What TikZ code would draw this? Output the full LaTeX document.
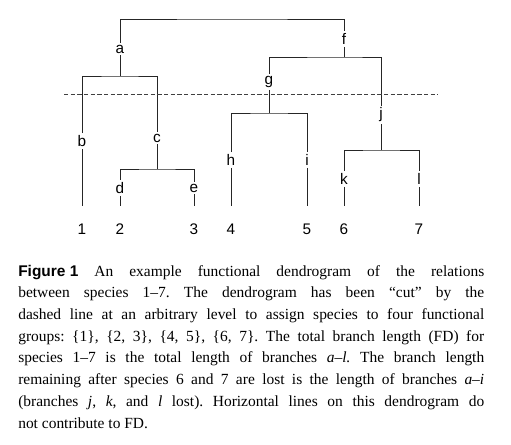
\documentclass[tikz,border=0pt]{standalone}
\usepackage{fontspec}
\setmainfont{Liberation Serif}
\setsansfont{Liberation Sans}
\usepackage{tikz}
\usetikzlibrary{calc}
\tikzset{
	lbl/.style={font=\sffamily\fontsize{11.5}{13}\selectfont,inner sep=1.5pt},
	species/.style={font=\sffamily\fontsize{11.5}{13}\selectfont,inner sep=1pt},
	branch/.style={draw=black!85,line width=0.7pt},
	cut/.style={draw=black!75,line width=0.7pt,dash pattern=on 3.2pt off 1.8pt},
	caption/.style={text width=349.5pt,align=justify,inner sep=0pt,font=\fontsize{11.6}{16.3}\selectfont\frenchspacing}
}

\begin{document}
\begin{tikzpicture}[x=0.75pt,y=-0.75pt]
		\useasboundingbox (0,0) rectangle (511,444);
		% branch labels
		\node[lbl] (a) at (120,49) {a};
		\node[lbl] (b) at (82,141) {b};
		\node[lbl] (c) at (157,138) {c};
		\node[lbl] (d) at (120,188) {d};
		\node[lbl] (e) at (194,188) {e};
		\node[lbl] (f) at (344,39) {f};
		\node[lbl] (g) at (269,82) {g};
		\node[lbl] (h) at (231,160) {h};
		\node[lbl] (i) at (307,160) {i};
		\node[lbl] (j) at (381,115) {j};
		\node[lbl] (k) at (344,179) {k};
		\node[lbl] (l) at (419,179) {l};
		
		% species numbers
		\foreach \n/\x in {1/82,2/120,3/194,4/231,5/307,6/344,7/419}
			\node[species] (s\n) at (\x,229) {\n};
		
		% forks
		\coordinate (root) at (232,19);
		\coordinate (fa) at (120,76);
		\coordinate (fc) at (157,169);
		\coordinate (ff) at (344,57);
		\coordinate (fg) at (269,113);
		\coordinate (fj) at (381,150);
		\coordinate (tips) at (0,206);
		\coordinate (cutl) at (64,94);
		\coordinate (cutr) at (438,94);
		
		\draw[branch] (a) |- (root) -| (f);
		\draw[branch] (b) |- (fa) -| (c);
		\draw[branch] (a) -- (fa);
		\draw[branch] (d) |- (fc) -| (e);
		\draw[branch] (c) -- (fc);
		\draw[branch] (g) |- (ff) -| (j);
		\draw[branch] (f) -- (ff);
		\draw[branch] (h) |- (fg) -| (i);
		\draw[branch] (g) -- (fg);
		\draw[branch] (k) |- (fj) -| (l);
		\draw[branch] (j) -- (fj);
		\foreach \t in {b,d,e,h,i,k,l}
			\draw[branch] (\t) -- (\t |- tips);
		
		\draw[cut] (cutl) -- (cutr);
		
		\node[caption,anchor=base west] (cap) at (18,276) {{\sffamily\bfseries Figure\hspace{0.28em}1} An example functional dendrogram of the relations\linebreak between species 1–7. The dendrogram has been “cut” by the\linebreak dashed line at an arbitrary level to assign species to four functional\linebreak groups: \{1\}, \{2, 3\}, \{4, 5\}, \{6, 7\}. The total branch length (FD) for\linebreak species 1–7 is the total length of branches \textit{a–l.} The branch length\linebreak remaining after species 6 and 7 are lost is the length of branches \textit{a–i}\linebreak (branches \textit{j}, \textit{k}, and \textit{l} lost). Horizontal lines on this dendrogram do\linebreak not contribute to FD.};
\end{tikzpicture}
\end{document}
